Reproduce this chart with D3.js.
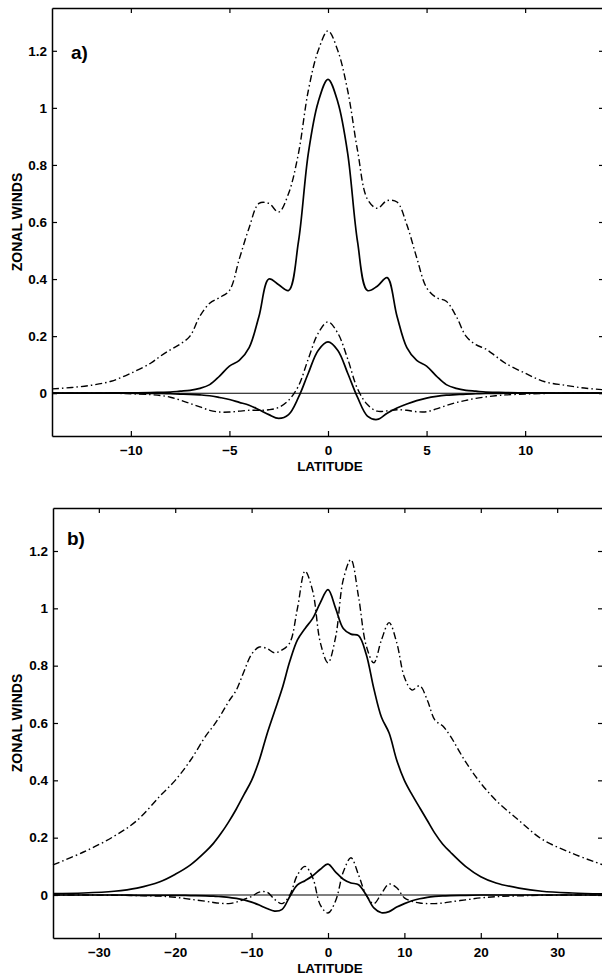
<!DOCTYPE html>
<html>
<head>
<meta charset="utf-8">
<script src="https://cdn.jsdelivr.net/npm/d3@7"></script>
<style>
  html, body { margin: 0; padding: 0; background: #fff; }
  svg { display: block; }
  text { font-family: "Liberation Sans", Arial, Helvetica, sans-serif; font-weight: bold; fill: #000; }
</style>
</head>
<body>
<svg id="chart" width="602" height="975"></svg>
<script>
// ---------- Panel a data (latitude, zonal wind) ----------
const latA = [-14,-13,-12,-11,-10,-9,-8.5,-8,-7.5,-7,-6.5,-6,-5.5,-5,-4.5,-4,-3.5,-3,-2.5,-2,-1.5,-1,-0.5,0,
              0.5,1,1.5,2,2.5,3,3.5,4,4.5,5,5.5,6,6.5,7,7.5,8,8.5,9,10,11,12,13,14];
const aSolidBig = [0,0,0,0.001,0.001,0.002,0.003,0.004,0.007,0.01,0.017,0.03,0.06,0.095,0.115,0.16,0.27,0.40,0.38,0.36,0.53,0.84,1.02,1.10,
              1.02,0.84,0.53,0.36,0.375,0.405,0.27,0.16,0.115,0.095,0.06,0.03,0.017,0.01,0.007,0.004,0.003,0.002,0.001,0.001,0,0,0];
const aDashBig = [0.015,0.02,0.028,0.042,0.07,0.105,0.13,0.152,0.172,0.20,0.27,0.315,0.335,0.36,0.47,0.58,0.665,0.665,0.635,0.70,0.84,1.06,1.20,1.27,
              1.20,1.06,0.85,0.68,0.648,0.675,0.67,0.59,0.475,0.37,0.335,0.322,0.27,0.20,0.17,0.155,0.13,0.105,0.07,0.04,0.028,0.018,0.012];
const aSolidSmall = [0,0,0,0,0,-0.001,-0.001,-0.002,-0.003,-0.004,-0.006,-0.009,-0.015,-0.022,-0.032,-0.042,-0.058,-0.075,-0.088,-0.075,-0.015,0.07,0.15,0.18,
              0.15,0.07,-0.015,-0.08,-0.092,-0.07,-0.052,-0.038,-0.026,-0.017,-0.011,-0.007,-0.005,-0.003,-0.002,-0.001,-0.001,0,0,0,0,0,0];
const aDashSmall = [0,0,0,0,-0.002,-0.005,-0.008,-0.014,-0.024,-0.036,-0.048,-0.06,-0.066,-0.066,-0.063,-0.06,-0.06,-0.058,-0.05,-0.025,0.025,0.12,0.21,0.25,
              0.21,0.12,0.015,-0.04,-0.063,-0.062,-0.058,-0.06,-0.065,-0.065,-0.055,-0.043,-0.033,-0.025,-0.018,-0.013,-0.009,-0.006,-0.003,-0.001,0,0,0];

// ---------- Panel b data ----------
const latB = [-36,-32,-28,-25,-22,-20,-18,-16,-15,-14,-13,-12,-11,-10,-9,-8,-7,-6,-5,-4,-3,-2,-1,0,
              1,2,3,4,5,6,7,8,9,10,11,12,13,14,15,16,18,20,22,25,28,32,36];
const bSolidBig = [0.005,0.007,0.013,0.024,0.046,0.072,0.105,0.152,0.18,0.215,0.255,0.30,0.35,0.40,0.47,0.56,0.64,0.72,0.815,0.89,0.93,0.965,1.02,1.065,
              1.0,0.93,0.91,0.905,0.84,0.72,0.62,0.565,0.47,0.40,0.35,0.305,0.26,0.215,0.178,0.15,0.10,0.064,0.042,0.024,0.013,0.007,0.004];
const bDashBig = [0.105,0.15,0.205,0.26,0.345,0.40,0.47,0.555,0.59,0.63,0.675,0.715,0.78,0.84,0.865,0.86,0.845,0.855,0.88,1.0,1.13,1.06,0.88,0.81,
              0.90,1.10,1.17,1.04,0.87,0.81,0.89,0.95,0.88,0.76,0.715,0.73,0.68,0.61,0.59,0.555,0.465,0.39,0.33,0.26,0.195,0.145,0.105];
const bSolidSmall = [0,0,0,-0.001,-0.001,-0.001,-0.002,-0.003,-0.004,-0.006,-0.008,-0.012,-0.017,-0.025,-0.035,-0.047,-0.056,-0.05,-0.005,0.035,0.05,0.067,0.09,0.108,
              0.08,0.055,0.042,0.036,0.0,-0.045,-0.062,-0.058,-0.042,-0.03,-0.02,-0.013,-0.008,-0.005,-0.003,-0.002,-0.001,0,0,0,0,0,0];
const bDashSmall = [0,0,-0.001,-0.002,-0.004,-0.008,-0.015,-0.022,-0.026,-0.029,-0.03,-0.025,-0.015,-0.005,0.01,0.01,-0.015,-0.03,0.0,0.07,0.10,0.06,-0.035,-0.063,
              -0.02,0.08,0.13,0.07,0.0,-0.03,0.005,0.038,0.025,-0.01,-0.022,-0.028,-0.03,-0.03,-0.028,-0.024,-0.017,-0.01,-0.006,-0.003,-0.001,0,0];

const yTicks = [0, 0.2, 0.4, 0.6, 0.8, 1, 1.2];
const xTicksA = [-10, -5, 0, 5, 10];
const xTicksB = [-30, -20, -10, 0, 10, 20, 30];

const svg = d3.select("#chart");

function panel(cfg) {
  const x = d3.scaleLinear().domain(cfg.xDomain).range([cfg.left, cfg.right]);
  const y = d3.scaleLinear().domain([-0.15, 1.35]).range([cfg.bottom, cfg.top]);
  const g = svg.append("g");

  const styleAxis = sel => {
    sel.selectAll("path.domain").attr("stroke", "#000").attr("stroke-width", 1.5);
    sel.selectAll(".tick line").attr("stroke", "#000").attr("stroke-width", 1.2);
    sel.selectAll(".tick text").style("font-size", "13.5px").style("font-weight", "bold")
       .style("font-family", "'Liberation Sans', Arial, sans-serif");
  };

  g.append("g").attr("transform", `translate(0,${cfg.bottom})`)
    .call(d3.axisBottom(x).tickValues(cfg.xTicks).tickSize(-5).tickSizeOuter(0).tickPadding(9))
    .call(styleAxis);
  g.append("g").attr("transform", `translate(0,${cfg.top})`)
    .call(d3.axisTop(x).tickValues(cfg.xTicks).tickSize(-5).tickSizeOuter(0).tickFormat(""))
    .call(styleAxis);
  g.append("g").attr("transform", `translate(${cfg.left},0)`)
    .call(d3.axisLeft(y).tickValues(yTicks).tickSize(-5).tickSizeOuter(0).tickPadding(5).tickFormat(d3.format("~g")))
    .call(styleAxis);
  g.append("g").attr("transform", `translate(${cfg.right},0)`)
    .call(d3.axisRight(y).tickValues(yTicks).tickSize(-5).tickSizeOuter(0).tickFormat(""))
    .call(styleAxis);

  // zero line
  g.append("line")
    .attr("x1", x(cfg.xDomain[0])).attr("x2", x(cfg.xDomain[1]))
    .attr("y1", y(0)).attr("y2", y(0))
    .attr("stroke", "#000").attr("stroke-width", 1.1);

  const line = d3.line()
    .x((d, i) => x(cfg.lat[i]))
    .y(d => y(d))
    .curve(d3.curveCatmullRom.alpha(0.5));

  cfg.series.forEach(s => {
    g.append("path")
      .attr("d", line(s.values))
      .attr("fill", "none")
      .attr("stroke", "#000")
      .attr("stroke-width", s.dash ? 1.4 : 1.7)
      .attr("stroke-dasharray", s.dash ? "7,3,1.5,3" : null)
      .attr("stroke-linejoin", "round");
  });

  g.append("text")
    .attr("x", cfg.labelX).attr("y", cfg.labelY)
    .style("font-size", "19px")
    .text(cfg.label);

  g.append("text")
    .attr("transform", `translate(22,${(cfg.top + cfg.bottom) / 2}) rotate(-90)`)
    .attr("text-anchor", "middle")
    .style("font-size", "14px")
    .text("ZONAL WINDS");

  g.append("text")
    .attr("x", x(0) + 2).attr("y", cfg.bottom + 35)
    .attr("text-anchor", "middle")
    .style("font-size", "13.5px")
    .text("LATITUDE");
}

panel({
  xDomain: [-14, 14], left: 52, right: 604, top: 8, bottom: 436,
  xTicks: xTicksA, lat: latA, label: "a)", labelX: 71, labelY: 59,
  series: [
    { values: aSolidBig, dash: false },
    { values: aDashBig, dash: true },
    { values: aSolidSmall, dash: false },
    { values: aDashSmall, dash: true }
  ]
});

panel({
  xDomain: [-36, 36], left: 53, right: 603, top: 508, bottom: 938,
  xTicks: xTicksB, lat: latB, label: "b)", labelX: 67, labelY: 545,
  series: [
    { values: bSolidBig, dash: false },
    { values: bDashBig, dash: true },
    { values: bSolidSmall, dash: false },
    { values: bDashSmall, dash: true }
  ]
});
</script>
</body>
</html>
